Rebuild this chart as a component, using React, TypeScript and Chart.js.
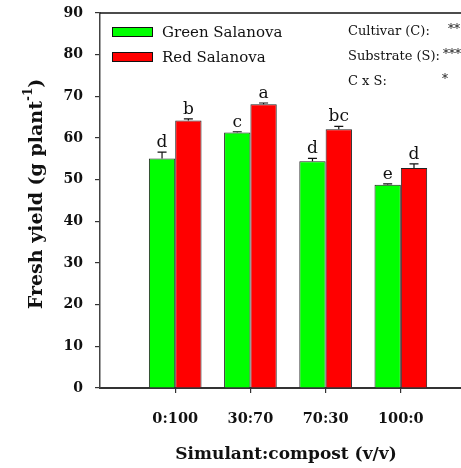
import React, { useEffect, useRef } from 'react';
import { Chart, registerables } from 'chart.js';

Chart.register(...registerables);

const categories = ['0:100', '30:70', '70:30', '100:0'];
const seriesNames = ['Green Salanova', 'Red Salanova'];
const greenValues = [55.1, 61.3, 54.4, 48.8];
const redValues = [64.2, 68.1, 62.1, 52.8];
const greenErrors = [1.5, 0.2, 0.7, 0.2];
const redErrors = [0.4, 0.3, 0.7, 1.0];
const greenLetters = ['d', 'c', 'd', 'e'];
const redLetters = ['b', 'a', 'bc', 'd'];
const statLabels = ['Cultivar (C):', 'Substrate (S):', 'C x S:'];
const statMarks = ['**', '***', '*'];
const yAxisTitle = 'Fresh yield (g plant';
const yAxisSup = '-1';
const xAxisTitle = 'Simulant:compost (v/v)';

const FONT = '"DejaVu Serif", serif';
const colors = ['#00ff00', '#ff0000'];
const errors = [greenErrors, redErrors];
const letters = [greenLetters, redLetters];

const overlay = {
  id: 'overlay',
  afterDraw(chart: any) {
    const { ctx, chartArea, scales } = chart;
    const y = scales.y;
    ctx.save();
    // keep the clipped right side open
    ctx.fillStyle = '#fff';
    ctx.fillRect(chart.width - 2, chartArea.top + 1, 2, chartArea.bottom - chartArea.top - 2);

    // top frame line
    ctx.strokeStyle = '#111';
    ctx.lineWidth = 1.5;
    ctx.beginPath();
    ctx.moveTo(chartArea.left, chartArea.top);
    ctx.lineTo(chart.width, chartArea.top);
    ctx.stroke();

    // error bars + letters
    for (let d = 0; d < 2; d++) {
      const meta = chart.getDatasetMeta(d);
      meta.data.forEach((el: any, i: number) => {
        const v = chart.data.datasets[d].data[i].y;
        const top = y.getPixelForValue(v + errors[d][i]);
        ctx.strokeStyle = '#111';
        ctx.lineWidth = 1.2;
        ctx.beginPath();
        ctx.moveTo(el.x, el.y);
        ctx.lineTo(el.x, top);
        ctx.moveTo(el.x - 4.5, top);
        ctx.lineTo(el.x + 4.5, top);
        ctx.stroke();
        ctx.fillStyle = '#111';
        ctx.font = `17px ${FONT}`;
        ctx.textAlign = 'center';
        ctx.textBaseline = 'alphabetic';
        ctx.fillText(letters[d][i], el.x, top - 5);
      });
    }

    // legend
    const legY = [32, 57];
    for (let d = 0; d < 2; d++) {
      ctx.fillStyle = colors[d];
      ctx.fillRect(112.5, legY[d] - 4.5, 40, 9);
      ctx.strokeStyle = '#111';
      ctx.lineWidth = 1;
      ctx.strokeRect(112.5, legY[d] - 4.5, 40, 9);
      ctx.fillStyle = '#111';
      ctx.font = `15px ${FONT}`;
      ctx.textAlign = 'left';
      ctx.textBaseline = 'middle';
      ctx.fillText(seriesNames[d], 162, legY[d] + 1);
    }

    // stats annotations
    const sY = [32, 57, 82];
    const markX = [448, 443, 442];
    ctx.textBaseline = 'middle';
    for (let k = 0; k < 3; k++) {
      ctx.textAlign = 'left';
      ctx.font = `13px ${FONT}`;
      ctx.fillText(statLabels[k], 348, sY[k]);
      ctx.font = `12px ${FONT}`;
      ctx.fillText(statMarks[k], markX[k], sY[k] - 2);
    }

    // x axis title
    ctx.font = `bold 17px ${FONT}`;
    ctx.textAlign = 'center';
    ctx.textBaseline = 'middle';
    ctx.fillText(xAxisTitle, 286, 455);

    // y axis title with superscript
    ctx.translate(35, 194);
    ctx.rotate(-Math.PI / 2);
    const mainFont = `bold 19px ${FONT}`;
    const supFont = `bold 12px ${FONT}`;
    ctx.font = mainFont;
    const w1 = ctx.measureText(yAxisTitle).width;
    const w3 = ctx.measureText(')').width;
    ctx.font = supFont;
    const w2 = ctx.measureText(yAxisSup).width;
    const x0 = -(w1 + w2 + w3) / 2;
    ctx.textAlign = 'left';
    ctx.textBaseline = 'alphabetic';
    ctx.font = mainFont;
    ctx.fillText(yAxisTitle, x0, 7);
    ctx.font = supFont;
    ctx.fillText(yAxisSup, x0 + w1, -3);
    ctx.font = mainFont;
    ctx.fillText(')', x0 + w1 + w2, 7);
    ctx.restore();
  },
};

export default function App() {
  const ref = useRef<HTMLCanvasElement | null>(null);
  useEffect(() => {
    if (!ref.current) return;
    const chart = new Chart(ref.current, {
      type: 'bar',
      data: {
        datasets: [
          {
            label: seriesNames[0],
            data: greenValues.map((v, i) => ({ x: i + 1, y: v })),
            backgroundColor: colors[0],
            borderColor: '#222',
            borderWidth: 1,
            categoryPercentage: 0.7,
            barPercentage: 1.0,
          },
          {
            label: seriesNames[1],
            data: redValues.map((v, i) => ({ x: i + 1, y: v })),
            backgroundColor: colors[1],
            borderColor: '#222',
            borderWidth: 1,
            categoryPercentage: 0.7,
            barPercentage: 1.0,
          },
        ],
      },
      options: {
        animation: false,
        responsive: false,
        maintainAspectRatio: false,
        layout: { padding: { top: 13, left: 0, right: 0, bottom: 0 } },
        plugins: { legend: { display: false }, tooltip: { enabled: false } },
        scales: {
          x: {
            type: 'linear',
            min: 0,
            max: 4.8,
            offset: false,
            afterBuildTicks: (s: any) => {
              s.ticks = categories.map((_, i) => ({ value: i + 1 }));
            },
            afterFit: (s: any) => {
              s.height = 80;
              s.paddingLeft = 0;
              s.paddingRight = 0;
            },
            ticks: {
              callback: (v: any) => categories[Number(v) - 1] ?? '',
              font: { family: FONT, weight: 'bold', size: 14.5 },
              color: '#111',
              padding: 18,
              autoSkip: false,
              maxRotation: 0,
            },
            grid: { drawOnChartArea: false, offset: false, tickLength: 5, color: '#333', lineWidth: 1.2 },
            border: { color: '#333', width: 2 },
          },
          y: {
            min: 0,
            max: 90,
            afterFit: (s: any) => {
              s.width = 100;
              s.paddingTop = 0;
              s.paddingBottom = 0;
            },
            ticks: {
              stepSize: 10,
              font: { family: FONT, weight: 'bold', size: 14 },
              color: '#111',
              padding: 12,
            },
            grid: { drawOnChartArea: false, tickLength: 5, color: '#333', lineWidth: 1.2 },
            border: { color: '#444', width: 1.5 },
          },
        },
      },
      plugins: [overlay],
    } as any);
    return () => chart.destroy();
  }, []);
  return (
    <div style={{ position: 'absolute', left: 0, top: 0, width: 461, height: 468, overflow: 'hidden' }}>
      <canvas ref={ref} width={461} height={468} style={{ display: 'block' }} />
    </div>
  );
}
